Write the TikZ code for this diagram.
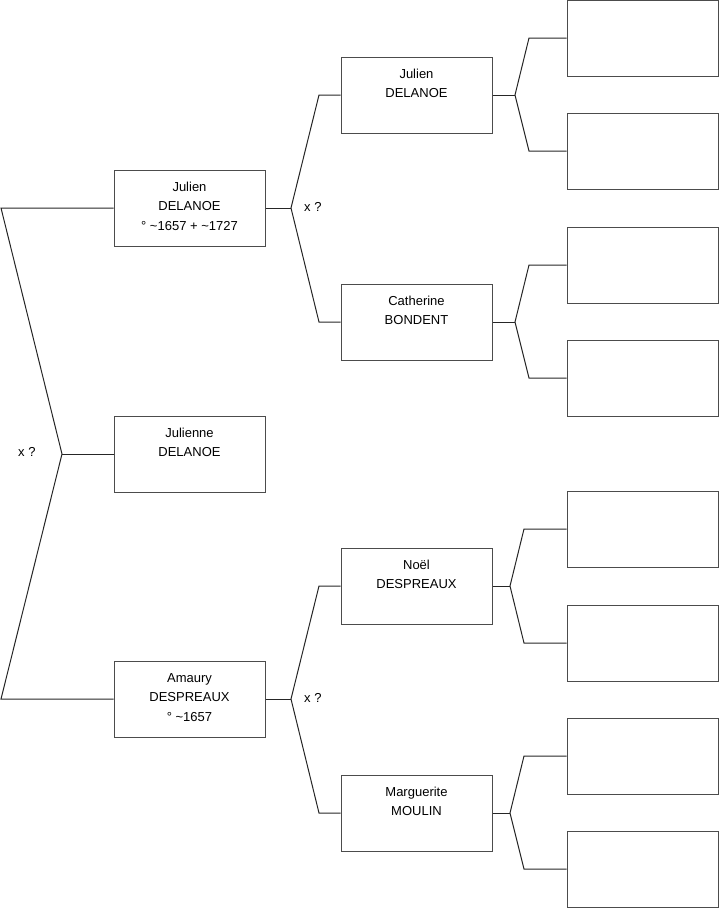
\documentclass[tikz,border=0pt]{standalone}
\usepackage{fontspec}
\setmainfont{Liberation Sans}
\usepackage{tikz}

\newcommand{\who}[1]{\parbox[c][76pt][t]{151pt}{\centering\rule{0pt}{21pt}#1}}

\begin{document}
\begin{tikzpicture}[
  x=1pt, y=-1pt,
  every node/.style={font=\fontsize{13}{19.5}\selectfont},
  person/.style={draw=black!70, line width=1pt, rectangle, inner sep=0pt,
                 minimum width=151pt, minimum height=76pt},
  link/.style={draw=black!85, line width=1pt},
  union/.style={anchor=west, inner sep=0pt}
]
  \useasboundingbox (0,0) rectangle (719,908);

  \node[person] (julien)     at (189.5,208) {\who{Julien\\DELANOE\\° \textasciitilde1657 + \textasciitilde1727}};
  \node[person] (julienne)   at (189.5,454) {\who{Julienne\\DELANOE}};
  \node[person] (amaury)     at (189.5,699) {\who{Amaury\\DESPREAUX\\° \textasciitilde1657}};

  \node[person] (julienp)    at (416.5,95)  {\who{Julien\\DELANOE}};
  \node[person] (catherine)  at (416.5,322) {\who{Catherine\\BONDENT}};
  \node[person] (noel)       at (416.5,586) {\who{Noël\\DESPREAUX}};
  \node[person] (marguerite) at (416.5,813) {\who{Marguerite\\MOULIN}};

  \node[person] (gp1) at (642.5,38)  {\who{}};
  \node[person] (gp2) at (642.5,151) {\who{}};
  \node[person] (gp3) at (642.5,265) {\who{}};
  \node[person] (gp4) at (642.5,378) {\who{}};
  \node[person] (gp5) at (642.5,529) {\who{}};
  \node[person] (gp6) at (642.5,643) {\who{}};
  \node[person] (gp7) at (642.5,756) {\who{}};
  \node[person] (gp8) at (642.5,869) {\who{}};

  \node[union] (u0) at (18,452)  {x ?};
  \node[union] (u1) at (304,207) {x ?};
  \node[union] (u2) at (304,698) {x ?};

  \coordinate (top0) at (1,208);
  \coordinate (bot0) at (1,699);
  \coordinate (fork0) at (62,454);
  \draw[link] (julien.west) -- (top0) -- (fork0) -- (bot0) -- (amaury.west);
  \draw[link] (fork0) -- (julienne.west);

  \coordinate (fork1) at (291,208);
  \draw[link] (julien.east) -- (fork1);
  \draw[link] (julienp.west) -- (319,95) -- (fork1) -- (319,322) -- (catherine.west);

  \coordinate (fork2) at (291,699);
  \draw[link] (amaury.east) -- (fork2);
  \draw[link] (noel.west) -- (319,586) -- (fork2) -- (319,813) -- (marguerite.west);

  \coordinate (fork3) at (515,95);
  \draw[link] (julienp.east) -- (fork3);
  \draw[link] (gp1.west) -- (529,38) -- (fork3) -- (529,151) -- (gp2.west);

  \coordinate (fork4) at (515,322);
  \draw[link] (catherine.east) -- (fork4);
  \draw[link] (gp3.west) -- (529,265) -- (fork4) -- (529,378) -- (gp4.west);

  \coordinate (fork5) at (510,586);
  \draw[link] (noel.east) -- (fork5);
  \draw[link] (gp5.west) -- (524,529) -- (fork5) -- (524,643) -- (gp6.west);

  \coordinate (fork6) at (510,813);
  \draw[link] (marguerite.east) -- (fork6);
  \draw[link] (gp7.west) -- (524,756) -- (fork6) -- (524,869) -- (gp8.west);
\end{tikzpicture}
\end{document}
